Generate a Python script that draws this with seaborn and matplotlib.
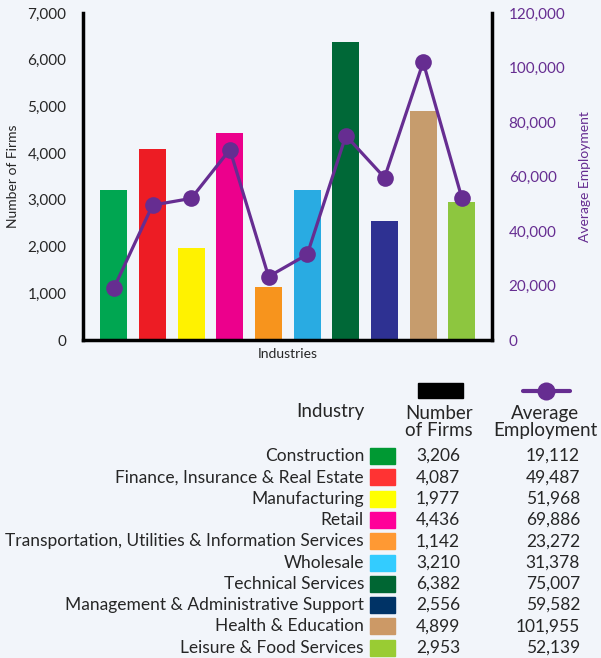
import numpy as np
import pandas as pd
import matplotlib
matplotlib.use("Agg")
import matplotlib.pyplot as plt
import seaborn as sns
from matplotlib.patches import Rectangle
from matplotlib.lines import Line2D

# Dados
industrias = [
    "Construction",
    "Finance, Insurance & Real Estate",
    "Manufacturing",
    "Retail",
    "Transportation, Utilities & Information Services",
    "Wholesale",
    "Technical Services",
    "Management & Administrative Support",
    "Health & Education",
    "Leisure & Food Services",
]
num_firmas = [3206, 4087, 1977, 4436, 1142, 3210, 6382, 2556, 4899, 2953]
emprego_medio = [19112, 49487, 51968, 69886, 23272, 31378, 75007, 59582, 101955, 52139]

cores_barras = ["#00a651", "#ed1c24", "#fff200", "#ec008c", "#f7941d",
                "#29abe2", "#006837", "#2e3192", "#c69c6d", "#8dc63f"]
cores_tabela = ["#009933", "#ff3333", "#ffff00", "#ff0099", "#ff9933",
                "#33ccff", "#006633", "#003366", "#cc9966", "#99cc33"]

roxo = "#662d91"
fundo = "#f2f5fa"

sns.set_style("white")
plt.rcParams["font.family"] = ["Lato", "DejaVu Sans"]

df = pd.DataFrame({"Industry": industrias, "Firms": num_firmas, "Emp": emprego_medio})

fig = plt.figure(figsize=(6.01, 6.58), dpi=100, facecolor=fundo)
ax = fig.add_axes([83 / 601, 1 - 340 / 658, 409 / 601, 327 / 658])
ax.set_facecolor(fundo)

sns.barplot(data=df, x="Industry", y="Firms", hue="Industry", palette=cores_barras,
            width=0.7, saturation=1, linewidth=0, legend=False, ax=ax)
ax.set_xlim(-0.8, 9.78)
ax.set_ylim(0, 7000)
ax.set_yticks(range(0, 7001, 1000))
ax.set_yticklabels([f"{v:,}" for v in range(0, 7001, 1000)], fontsize=11)
ax.set_xticks([])
ax.set_xlabel("Industries", fontsize=10, labelpad=6)
ax.set_ylabel("Number of Firms", fontsize=10, labelpad=6)
ax.tick_params(axis="y", length=0, pad=12)
for lado in ["left", "bottom", "right"]:
    ax.spines[lado].set_linewidth(2.5)
    ax.spines[lado].set_color("black")
ax.spines["top"].set_visible(False)

ax2 = ax.twinx()
sns.lineplot(x=np.arange(len(emprego_medio)), y=emprego_medio, color=roxo, linewidth=2.3,
             marker="o", markersize=12, markeredgewidth=0, ax=ax2)
ax2.set_ylim(0, 120000)
ax2.set_yticks(range(0, 120001, 20000))
ax2.set_yticklabels([f"{v:,}" for v in range(0, 120001, 20000)], fontsize=11, color=roxo)
ax2.tick_params(axis="y", length=0, pad=12)
ax2.set_ylabel("Average Employment", fontsize=10, color=roxo, labelpad=10)
for lado in ["left", "bottom", "right", "top"]:
    ax2.spines[lado].set_visible(False)

# Tabela / legenda
def fy(py):
    return 1 - py / 658

def fx(px):
    return px / 601

fs = 12.5
fh = 13.5
fig.text(fx(364), fy(412), "Industry", ha="right", va="center", fontsize=fh)
fig.text(fx(439), fy(422), "Number\nof Firms", ha="center", va="center", fontsize=fh,
         linespacing=1.05)
fig.text(fx(545), fy(422), "Average\nEmployment", ha="center", va="center", fontsize=fh,
         linespacing=1.05)
fig.patches.append(Rectangle((fx(418), fy(398)), fx(45), 15 / 658, color="black",
                             transform=fig.transFigure))
fig.lines.append(Line2D([fx(523), fx(570)], [fy(391), fy(391)], color=roxo, linewidth=3,
                        transform=fig.transFigure))
fig.lines.append(Line2D([fx(546)], [fy(391)], color=roxo, marker="o", markersize=13,
                        markeredgewidth=0, transform=fig.transFigure))

y0 = 456
passo = 21.3
for i, nome in enumerate(industrias):
    y = y0 + i * passo
    fig.text(fx(364), fy(y), nome, ha="right", va="center", fontsize=fs)
    fig.patches.append(Rectangle((fx(370), fy(y + 8)), fx(25), 16 / 658,
                                 color=cores_tabela[i], transform=fig.transFigure))
    fig.text(fx(438), fy(y), f"{num_firmas[i]:,}", ha="center", va="center", fontsize=fs)
    fig.text(fx(580), fy(y), f"{emprego_medio[i]:,}", ha="right", va="center", fontsize=fs)

fig.savefig("out.png", dpi=100, facecolor=fundo)
